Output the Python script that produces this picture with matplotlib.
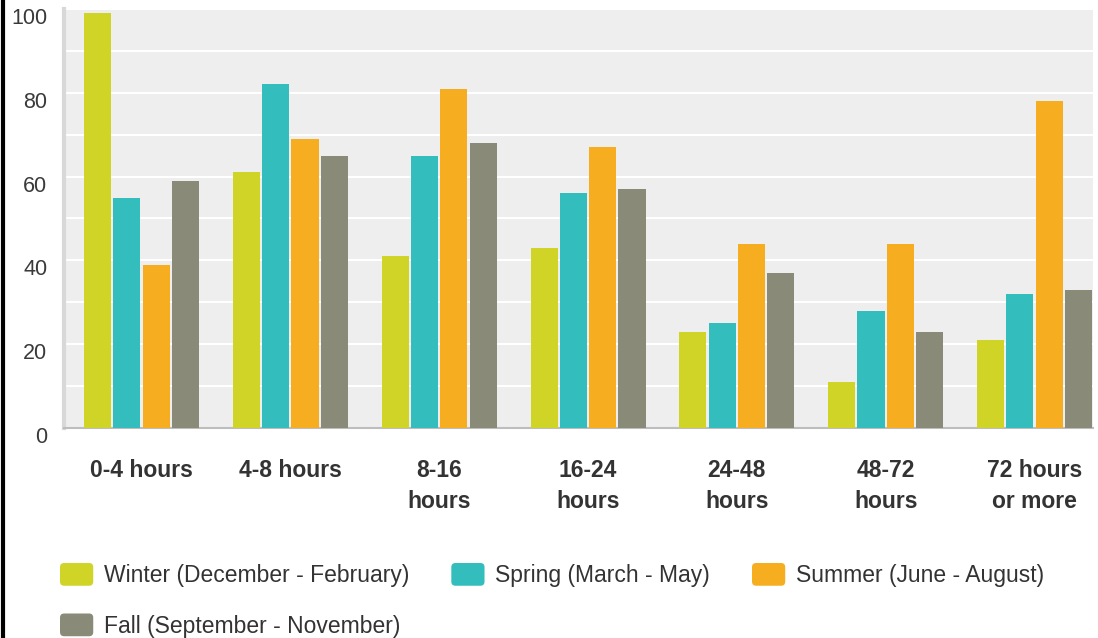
import matplotlib
matplotlib.use("Agg")
import matplotlib.pyplot as plt
import numpy as np
from matplotlib.patches import FancyBboxPatch, Patch
from matplotlib.legend_handler import HandlerPatch
from matplotlib.transforms import ScaledTranslation
from matplotlib.lines import Line2D

plt.rcParams['font.family'] = ['Liberation Sans', 'DejaVu Sans']

categories = ["0-4 hours", "4-8 hours", "8-16\nhours", "16-24\nhours",
              "24-48\nhours", "48-72\nhours", "72 hours\nor more"]
series_names = ["Winter (December - February)", "Spring (March - May)",
                "Summer (June - August)", "Fall (September - November)"]
winter = [99, 61, 41, 43, 23, 11, 21]
spring = [55, 82, 65, 56, 25, 28, 32]
summer = [39, 69, 81, 67, 44, 44, 78]
fall = [59, 65, 68, 57, 37, 23, 33]
y_ticks = [0, 20, 40, 60, 80, 100]

colors = ["#cfd427", "#33bdbd", "#f6ae20", "#898a78"]
series = [winter, spring, summer, fall]

W, H = 1098, 638
fig = plt.figure(figsize=(W / 100, H / 100), dpi=100)
fig.patch.set_facecolor("white")
ax = fig.add_axes([64 / W, (H - 428) / H, (1093 - 64) / W, (428 - 9) / H])
ax.set_facecolor("#eeeeee")

x = np.arange(len(categories))
slot = 0.197
bw = 0.182
for i, (vals, c, name) in enumerate(zip(series, colors, series_names)):
    ax.bar(x + (i - 1.5) * slot, vals, width=bw, color=c, label=name, zorder=3,
           linewidth=0)

ax.set_xlim(-0.521, 6.393)
ax.set_ylim(0, 100)
ax.set_yticks(y_ticks)
ax.set_yticks(np.arange(0, 101, 10), minor=True)
ax.grid(axis="y", which="both", color="white", linewidth=1.5, zorder=1)
ax.tick_params(axis="y", which="both", length=0, pad=12, labelsize=15.5,
               labelcolor="#3a3a3a")
ax.set_xticks(x)
ax.set_xticklabels(categories, fontweight="bold", fontsize=16.5, color="#333333",
                   linespacing=1.45)
ax.tick_params(axis="x", length=0, pad=22)
for lab in ax.get_yticklabels():
    lab.set_transform(lab.get_transform() + ScaledTranslation(0, -7 / 100, fig.dpi_scale_trans))

for s in ["top", "right"]:
    ax.spines[s].set_visible(False)
ax.spines["left"].set_color("#d8d8d8")
ax.spines["left"].set_linewidth(3)
ax.spines["bottom"].set_color("#bdbdbd")
ax.spines["bottom"].set_linewidth(1.5)


def make_rounded(legend, orig_handle, xdescent, ydescent, width, height, fontsize):
    return FancyBboxPatch((-xdescent, -ydescent), width, height,
                          boxstyle="round,pad=0,rounding_size=3")


order = [0, 3, 1, 2]
handles = [Patch(facecolor=colors[k], edgecolor="none") for k in order]
labels = [series_names[k] for k in order]
leg = fig.legend(handles, labels, loc="upper left",
                 bbox_to_anchor=(60 / W, (H - 563) / H), ncol=3, frameon=False,
                 fontsize=16.5, handlelength=1.45, handleheight=1.15,
                 handletextpad=0.45, columnspacing=1.85, labelspacing=1.15,
                 borderpad=0, borderaxespad=0,
                 handler_map={Patch: HandlerPatch(patch_func=make_rounded)})
for t in leg.get_texts():
    t.set_color("#333333")

# left border line of the figure frame
fig.add_artist(Line2D([2.5 / W, 2.5 / W], [0, 1], color="black", linewidth=3,
                      transform=fig.transFigure))

fig.savefig("out.png", dpi=100)
